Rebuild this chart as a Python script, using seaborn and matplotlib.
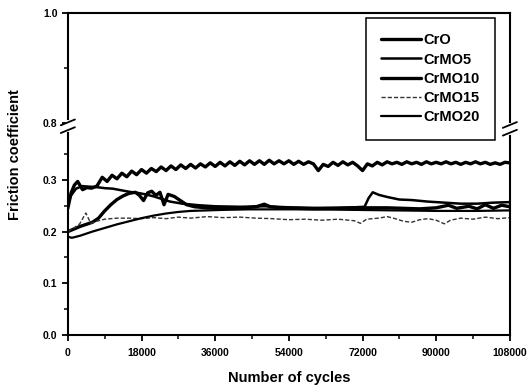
import numpy as np
import pandas as pd
import matplotlib
matplotlib.use("Agg")
import matplotlib.pyplot as plt
import seaborn as sns

# ---------------- data ----------------
cro_x = [0, 800, 1600, 2400, 3600, 4600, 5800, 7100, 8400, 9600, 10800, 12000, 13200, 14400,
         15600, 16800, 18000, 19200, 20400, 21600, 22800, 24000, 25200, 26400, 27600, 28800,
         30000, 31200, 32400, 33600, 34800, 36000, 37200, 38400, 39600, 40800, 42000, 43200,
         44400, 45600, 46800, 48000, 49200, 50400, 51600, 52800, 54000, 55200, 56400, 57600,
         58800, 60000, 61200, 62400, 63600, 64800, 66000, 67200, 68400, 69600, 70800, 72000,
         73200, 74400, 75600, 76800, 78000, 79200, 80400, 81600, 82800, 84000, 85200, 86400,
         87600, 88800, 90000, 91200, 92400, 93600, 94800, 96000, 97200, 98400, 99600, 100800,
         102000, 103200, 104400, 105600, 106800, 108000]
cro_y = [0.245, 0.275, 0.290, 0.297, 0.281, 0.285, 0.284, 0.288, 0.305, 0.297, 0.309, 0.302,
         0.313, 0.306, 0.317, 0.310, 0.320, 0.313, 0.322, 0.316, 0.325, 0.318, 0.327, 0.320,
         0.329, 0.322, 0.330, 0.323, 0.331, 0.325, 0.333, 0.326, 0.334, 0.327, 0.335, 0.328,
         0.336, 0.329, 0.337, 0.330, 0.337, 0.330, 0.338, 0.331, 0.337, 0.331, 0.337, 0.330,
         0.336, 0.330, 0.335, 0.331, 0.318, 0.330, 0.326, 0.334, 0.328, 0.335, 0.329, 0.334,
         0.327, 0.318, 0.331, 0.327, 0.334, 0.329, 0.335, 0.331, 0.334, 0.330, 0.335, 0.331,
         0.334, 0.330, 0.335, 0.331, 0.334, 0.331, 0.335, 0.331, 0.334, 0.330, 0.334, 0.331,
         0.335, 0.331, 0.334, 0.330, 0.333, 0.330, 0.334, 0.333]

crmo5_x = [0, 800, 2000, 3500, 5000, 7000, 9000, 11000, 13000, 15000, 17000, 19000, 21000,
           23000, 25000, 28000, 32000, 36000, 42000, 48000, 54000, 60000, 66000, 70000, 72500,
           73500, 74500, 76000, 78000, 81000, 84000, 88000, 92000, 96000, 100000, 104000, 108000]
crmo5_y = [0.255, 0.270, 0.283, 0.288, 0.287, 0.286, 0.284, 0.283, 0.280, 0.277, 0.275, 0.272,
           0.268, 0.263, 0.258, 0.254, 0.251, 0.249, 0.248, 0.249, 0.247, 0.246, 0.246, 0.247,
           0.248, 0.265, 0.276, 0.271, 0.267, 0.262, 0.261, 0.258, 0.256, 0.254, 0.254, 0.256,
           0.257]

crmo10_x = [0, 1500, 3000, 4500, 6000, 7500, 9000, 10500, 12000, 13500, 15000, 16500, 17500,
            18500, 19500, 20500, 21500, 22500, 23500, 24500, 26000, 27500, 29000, 31000, 34000,
            38000, 42000, 46000, 48000, 49500, 52000, 56000, 60000, 65000, 70000, 74000, 78000,
            82000, 86000, 90000, 93000, 95000, 98000, 100000, 102000, 104000, 106000, 108000]
crmo10_y = [0.200, 0.205, 0.210, 0.214, 0.218, 0.226, 0.240, 0.252, 0.262, 0.269, 0.274, 0.276,
            0.270, 0.260, 0.275, 0.278, 0.270, 0.276, 0.252, 0.272, 0.268, 0.260, 0.252, 0.248,
            0.246, 0.245, 0.245, 0.248, 0.253, 0.248, 0.246, 0.245, 0.244, 0.245, 0.246, 0.246,
            0.246, 0.245, 0.244, 0.246, 0.251, 0.245, 0.249, 0.244, 0.252, 0.245, 0.251, 0.248]

crmo15_x = [0, 1500, 2900, 4400, 5600, 7000, 9000, 12000, 15000, 18000, 21000, 24000, 27000,
            30000, 34000, 38000, 42000, 46000, 50000, 54000, 58000, 62000, 66000, 70000, 71500,
            73000, 76000, 78000, 80000, 82000, 84000, 86000, 88000, 90000, 92000, 93500, 96000,
            99000, 102000, 105000, 108000]
crmo15_y = [0.200, 0.207, 0.215, 0.236, 0.216, 0.220, 0.224, 0.226, 0.226, 0.225, 0.227, 0.225,
            0.228, 0.226, 0.229, 0.227, 0.228, 0.226, 0.225, 0.223, 0.224, 0.222, 0.224, 0.221,
            0.216, 0.224, 0.226, 0.229, 0.225, 0.220, 0.218, 0.223, 0.225, 0.222, 0.215, 0.222,
            0.226, 0.224, 0.228, 0.225, 0.227]

crmo20_x = [0, 1000, 3000, 6000, 9000, 12000, 15000, 18000, 21000, 24000, 27000, 30000, 34000,
            38000, 44000, 50000, 60000, 70000, 80000, 90000, 100000, 108000]
crmo20_y = [0.190, 0.188, 0.192, 0.200, 0.207, 0.214, 0.220, 0.226, 0.231, 0.235, 0.238, 0.240,
            0.241, 0.242, 0.243, 0.243, 0.243, 0.242, 0.241, 0.240, 0.240, 0.241]

series_names = ["CrO", "CrMO5", "CrMO10", "CrMO15", "CrMO20"]
x_ticks = [0, 18000, 36000, 54000, 72000, 90000, 108000]
y_ticks = [0.0, 0.1, 0.2, 0.3, 0.8, 1.0]
y_tick_labels = ["0.0", "0.1", "0.2", "0.3", "0.8", "1.0"]

# ---------------- style ----------------
sns.set_theme(style="ticks")
plt.rcParams["font.family"] = ["Liberation Sans", "DejaVu Sans"]
plt.rcParams["font.weight"] = "bold"

fig = plt.figure(figsize=(5.3, 3.9), dpi=100)
ax = fig.add_axes([0.128, 0.141, 0.834, 0.826])


# broken y axis: 0-0.4 linear, 0.8-1.0 placed right above
def fwd(y):
    y = np.asarray(y, dtype=float)
    return np.where(y <= 0.4, y,
                    np.where(y >= 0.8, 0.41 + (y - 0.8) * 1.065, 0.4 + (y - 0.4) * 0.025))


def inv(p):
    p = np.asarray(p, dtype=float)
    return np.where(p <= 0.4, p,
                    np.where(p >= 0.41, 0.8 + (p - 0.41) / 1.065, 0.4 + (p - 0.4) / 0.025))


ax.set_yscale("function", functions=(fwd, inv))

styles = {
    "CrO": dict(lw=2.4, color="black", ls="-"),
    "CrMO5": dict(lw=1.8, color="black", ls="-"),
    "CrMO10": dict(lw=2.4, color="black", ls="-"),
    "CrMO15": dict(lw=1.0, color="#333333", ls=(0, (3, 1.5))),
    "CrMO20": dict(lw=1.6, color="black", ls="-"),
}
data = {
    "CrO": (cro_x, cro_y),
    "CrMO5": (crmo5_x, crmo5_y),
    "CrMO10": (crmo10_x, crmo10_y),
    "CrMO15": (crmo15_x, crmo15_y),
    "CrMO20": (crmo20_x, crmo20_y),
}
for name in series_names:
    xs, ys = data[name]
    df = pd.DataFrame({"cycles": xs, "mu": ys})
    st = styles[name]
    sns.lineplot(data=df, x="cycles", y="mu", ax=ax, color=st["color"], lw=st["lw"],
                 linestyle=st["ls"], label=name, estimator=None, sort=False)

ax.set_xlim(0, 108000)
ax.set_ylim(0.0, 1.0)
ax.set_xticks(x_ticks)
ax.set_xticklabels([str(t) for t in x_ticks])
ax.set_xticks([9000, 27000, 45000, 63000, 81000, 99000], minor=True)
ax.set_yticks(y_ticks)
ax.set_yticklabels(y_tick_labels)
ax.set_yticks([0.05, 0.15, 0.25, 0.35, 0.9], minor=True)
ax.yaxis.set_minor_formatter(matplotlib.ticker.NullFormatter())

ax.tick_params(axis="both", which="major", direction="out", length=4.5, width=1.3,
               labelsize=7.5, color="black", labelcolor="black")
ax.tick_params(axis="both", which="minor", direction="out", length=3, width=1.1, color="black")
ax.tick_params(axis="x", which="major", pad=5)
ax.tick_params(axis="y", which="major", pad=3)
for lab in ax.get_xticklabels() + ax.get_yticklabels():
    lab.set_fontweight("bold")

for side in ["left", "right", "top", "bottom"]:
    ax.spines[side].set_visible(True)
    ax.spines[side].set_color("black")
    ax.spines[side].set_linewidth(1.5)

ax.set_xlabel("Number of cycles", fontsize=10.5, fontweight="bold", color="black")
ax.set_ylabel("Friction coefficient", fontsize=10.5, fontweight="bold", color="black")
ax.xaxis.set_label_coords(0.501, -0.112)
ax.yaxis.set_label_coords(-0.104, 0.559)

# break marks on the left and right spines
for xa, yc in [(0.0, 0.648), (1.0, 0.640)]:
    ax.plot([xa, xa], [yc - 0.012, yc + 0.012], color="white", lw=3,
            transform=ax.transAxes, clip_on=False, zorder=5)
    for dy in (-0.012, 0.012):
        ax.plot([xa - 0.016, xa + 0.016], [yc + dy - 0.009, yc + dy + 0.009], color="black",
                lw=1.3, transform=ax.transAxes, clip_on=False, zorder=6)

leg = ax.legend(loc="upper right", bbox_to_anchor=(0.966, 0.984), borderaxespad=0.0,
                fontsize=10.5, frameon=True, fancybox=False, edgecolor="black",
                handlelength=2.75, handletextpad=0.15, labelspacing=0.36, borderpad=1.05,
                framealpha=1)
leg.get_frame().set_linewidth(1.1)
for t in leg.get_texts():
    t.set_fontweight("bold")
    t.set_color("black")

fig.savefig("out.png", dpi=100)
